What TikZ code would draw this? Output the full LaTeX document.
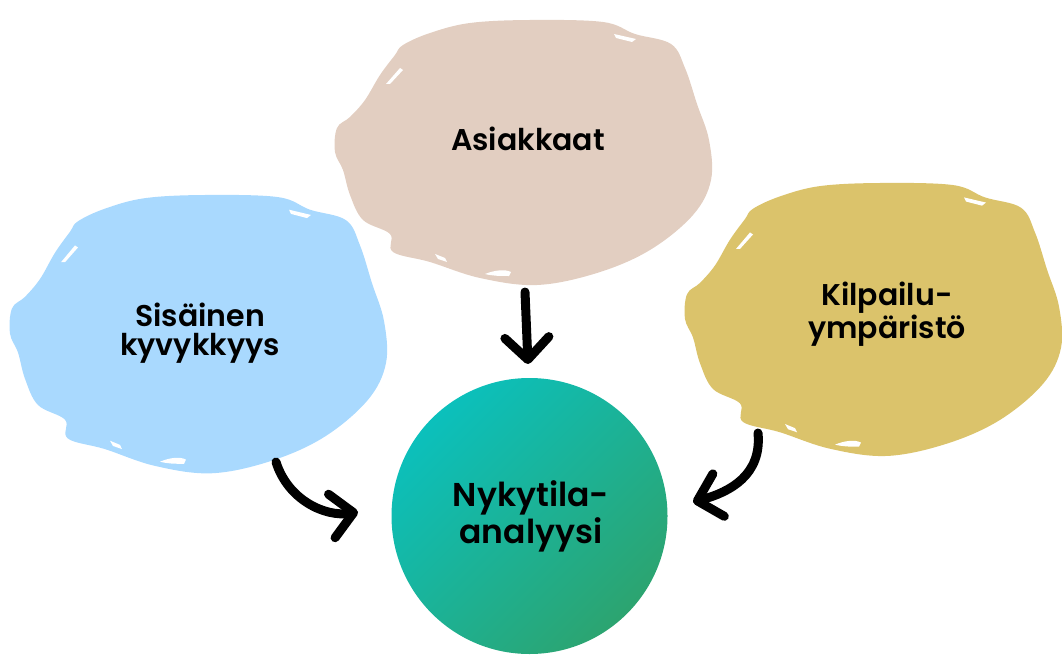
\documentclass[tikz,border=0pt]{standalone}
\usepackage{fontspec}
\setmainfont{Poppins}[BoldFont={Poppins SemiBold}]
\usetikzlibrary{arrows.meta,shadings}
\definecolor{beigeblob}{HTML}{E2CEC1}
\definecolor{blueblob}{HTML}{A9D9FE}
\definecolor{goldblob}{HTML}{DBC36B}
\definecolor{tealtop}{HTML}{0BC0BC}
\definecolor{greenbot}{HTML}{2CA470}
\newcommand\brushblob[4]{%
  \begin{scope}[shift={(#1,#2)},yscale=#3]
  \fill[#4] plot[smooth cycle, tension=0.6] coordinates {
    (68,25) (95,13) (135,3) (195,0) (268,2) (300,14) (336,24) (350,48)
    (362,84) (374,120) (376,160) (358,195) (315,230) (262,253) (202,265)
    (145,258) (95,242) (58,232) (55,214) (28,200) (15,175) (8,150)
    (0,132) (2,108) (15,97) (30,80) (45,55) (60,35)};
  \fill[white] (279,14) -- (301,19) -- (297,22) -- (281,18) -- cycle;
  \fill[white] (51,64) -- (65,48) -- (68,50) -- (55,64) -- cycle;
  \fill[white] (100,234) -- (110,238) -- (112,242) -- (103,239) -- cycle;
  \fill[white] (150,254) .. controls (160,250) and (170,249) .. (176,252) -- (174,256) .. controls (165,256) and (158,256) .. (150,254) -- cycle;
  \end{scope}}
\tikzset{
  blobtext/.style={align=center, font=\bfseries\fontsize{30}{29}\selectfont, text=black, inner sep=0pt},
  centertext/.style={align=center, font=\bfseries\fontsize{33}{37}\selectfont, text=black, inner sep=0pt},
  brusharrow/.style={line width=9pt, line cap=round, black,
    -{Straight Barb[length=22pt,width=44pt,line cap=round,line join=round]}},
}
\begin{document}
\begin{tikzpicture}[x=1pt,y=-1pt]
\useasboundingbox (0,0) rectangle (1062,655);
% blobs
\brushblob{335}{20}{1}{beigeblob}
\brushblob{10}{195}{1.05}{blueblob}
\brushblob{685}{183}{1.03}{goldblob}
% centre circle
\shade[shading=axis, top color=tealtop, bottom color=greenbot, shading angle=45]
  (529.5,516) circle[radius=138];
\node[circle, minimum size=276pt, inner sep=0pt] (nyky) at (529.5,516) {};
% labels
\node[blobtext] (asiak) at (528,139) {Asiakkaat};
\node[blobtext] (sisa) at (200,333) {Sisäinen\\kyvykkyys};
\node[blobtext] (kilp) at (887,314) {Kilpailu-\\ympäristö};
\node[centertext] (nykyt) at (531,516) {Nykytila-\\analyysi};
% arrow anchors
\coordinate (d1) at (525,292);
\coordinate (d2) at (528,364);
\coordinate (l1) at (276,462);
\coordinate (l2) at (358,512);
\coordinate (r1) at (758,433);
\coordinate (r2) at (693,502);
% arrows
\draw[brusharrow] (d1) -- (d2);
\draw[brusharrow] (l1) .. controls (288,500) and (325,517) .. (l2);
\draw[brusharrow] (r1) .. controls (762,475) and (730,492) .. (r2);
\end{tikzpicture}
\end{document}
